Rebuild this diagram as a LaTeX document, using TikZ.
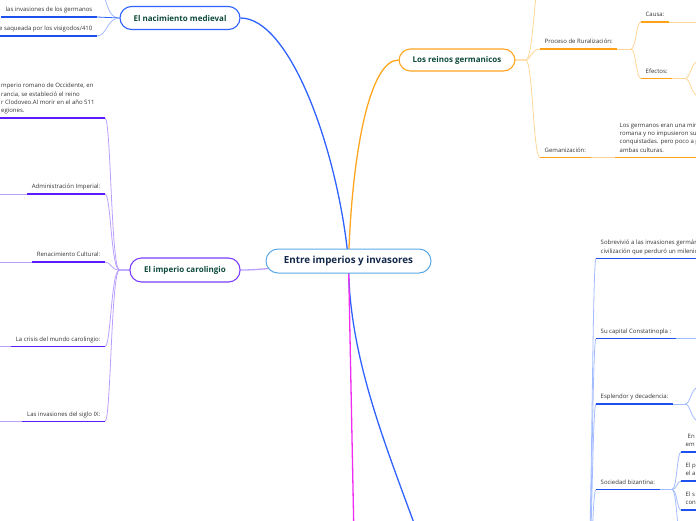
\documentclass[tikz,border=0pt]{standalone}
\usepackage{fontspec}
\setmainfont{Open Sans}
\usepackage{tikz}
\usetikzlibrary{backgrounds}
\definecolor{rootline}{HTML}{5AA9E6}
\definecolor{rootink}{HTML}{13294B}
\definecolor{topicink}{HTML}{0E4A3B}
\definecolor{leafink}{HTML}{333333}
\definecolor{bluemain}{HTML}{2F62FF}
\definecolor{bluelight}{HTML}{A3BBFF}
\definecolor{bluedark}{HTML}{1F50F0}
\definecolor{orangemain}{HTML}{FFA51F}
\definecolor{orangelight}{HTML}{FFD696}
\definecolor{orangedark}{HTML}{FFA21A}
\definecolor{purplemain}{HTML}{7B3DFF}
\definecolor{purplelight}{HTML}{B9A0FF}
\definecolor{purpledark}{HTML}{5A1CFF}
\definecolor{magentamain}{HTML}{F02CF0}
\tikzset{
  rootbox/.style={draw=rootline,fill=white,line width=1pt,rounded corners=12pt,
    minimum width=165pt,minimum height=24pt,font=\fontsize{9.8}{12}\selectfont\bfseries,text=rootink},
  topicbox/.style={draw=#1,fill=white,line width=1.1pt,rounded corners=11.5pt,
    minimum height=23pt,font=\fontsize{8}{10}\selectfont\bfseries,text=topicink},
  leaftext/.style={font=\fontsize{6}{8.4}\selectfont,text=leafink,align=left,
    inner xsep=4.5pt,inner ysep=3.4pt,text depth=1.6pt},
  mainlink/.style={draw=#1,line width=1.3pt},
  sublink/.style={draw=#1,line width=0.8pt},
  topicline/.style={draw=#1,line width=1.6pt}
}
\begin{document}
\begin{tikzpicture}[x=1pt,y=-1pt]
  \useasboundingbox (0,0) rectangle (696,520);
  \clip (0,0) rectangle (696,520);
  \node[rootbox] (root) at (348.5,261) {Entre imperios y invasores};
  \node[topicbox=bluemain,minimum width=120pt] (birth) at (180,18) {El nacimiento medieval};
  \node[topicbox=orangemain,minimum width=116pt,minimum height=22pt] (reinos) at (457,60) {Los reinos germanicos};
  \node[topicbox=purplemain,minimum width=110pt,minimum height=24pt] (caro) at (185,270) {El imperio carolingio};
  \coordinate (byz) at (442,605);
  \coordinate (byzfork) at (586,600);
  \coordinate (magenta) at (356,640);
  % el nacimiento medieval
  \node[leaftext,anchor=south east] (germ) at (97,17) {las invasiones de los germanos};
  \node[leaftext,anchor=south east] (saq) at (97,36) {e saqueada por los visigodos/410};
  % el imperio carolingio
  \coordinate (paraend) at (105,118);
  \node[leaftext,anchor=south west] (para) at (-3.5,118) {mperio romano de Occidente, en\\rancia, se estableció el reino\\r Clodoveo.Al morir en el año 511\\egiones.};
  \node[leaftext,anchor=south east] (admin) at (105,194) {Administración Imperial:};
  \node[leaftext,anchor=south east] (renac) at (105,262) {Renacimiento Cultural:};
  \node[leaftext,anchor=south east] (crisis) at (105,346.5) {La crisis del mundo carolingio:};
  \node[leaftext,anchor=south east] (invas) at (105,421.5) {Las invasiones del siglo IX:};
  % los reinos germanicos
  \node[leaftext,anchor=south west] (proc) at (540,49) {Proceso de Ruralización:};
  \coordinate (pfork) at (631,49);
  \node[leaftext,anchor=south west] (causa) at (641,22) {Causa:};
  \node[leaftext,anchor=south west] (efect) at (641,78.5) {Efectos:};
  \coordinate (efork) at (685,78.5);
  \node[leaftext,anchor=south west] (gem) at (540,157.5) {Gemanización:};
  \node[leaftext,anchor=south west] (losg) at (615,157.5) {Los germanos eran una min\\romana y no impusieron su\\conquistadas. pero poco a p\\ambas culturas.};
  % rama bizantina
  \node[leaftext,anchor=south west] (sobre) at (596,258.5) {Sobrevivió a las invasiones germán\\civilización que perduró un milenio};
  \node[leaftext,anchor=south west] (capital) at (596,338.5) {Su capital Constatinopla :};
  \node[leaftext,anchor=south west] (espl) at (596,404) {Esplendor y decadencia:};
  \coordinate (esfork) at (685,404);
  \node[leaftext,anchor=south west] (soc) at (596,489.5) {Sociedad bizantina:};
  \coordinate (sfork) at (672,489.5);
  \node[leaftext,anchor=south west] (soca) at (681,452) {\hspace*{2pt}En\\em};
  \node[leaftext,anchor=south west] (socb) at (681,481) {El p\\el a};
  \node[leaftext,anchor=south west] (socc) at (681,510) {El s\\con};
  \node[leaftext,anchor=south west] (socd) at (681,539) {-\\\mbox{}};

  \begin{scope}[on background layer]
    \clip (0,0) rectangle (696,520);
    \draw[mainlink=bluemain] (root.center) .. controls (338,150) and (290,18) .. (birth.east);
    \draw[mainlink=bluemain] (root.center) .. controls (348,380) and (408,492) .. (byz);
    \draw[mainlink=orangemain] (root.center) .. controls (352,150) and (370,60) .. (reinos.west);
    \draw[mainlink=purplelight] (root.center) .. controls (300,261) and (280,270) .. (caro.east);
    \draw[mainlink=magentamain] (root.center) -- (magenta);

    \draw[sublink=bluelight] (birth.west) .. controls (108,18) and (108,4) .. (101,-12);
    \draw[sublink=bluemain] (birth.west) -- (germ.south east);
    \draw[sublink=bluelight] (birth.west) .. controls (107,18) and (107,36) .. (saq.south east);
    \draw[topicline=bluedark] (germ.south west) -- (germ.south east);
    \draw[topicline=bluedark] (saq.south west) -- (saq.south east);

    \coordinate (ptrunk) at (111,0);
    \draw[sublink=purplelight] (caro.west) -- ++(-10,0) .. controls (ptrunk |- caro.west) and (ptrunk |- paraend) .. (paraend);
    \draw[topicline=purpledark] (paraend) -- (para.south west);
    \foreach \leaf in {admin,renac,crisis,invas}{
      \draw[sublink=purplelight] (caro.west) -- ++(-10,0) .. controls (ptrunk |- caro.west) and (ptrunk |- \leaf.south east) .. (\leaf.south east);
      \draw[topicline=purpledark] (\leaf.south west) -- (\leaf.south east);
      \draw[sublink=purplelight] (\leaf.south west) -- ++(-40,0);
    }

    \draw[sublink=orangelight] (reinos.east) -- ++(10,0) .. controls (532,60) and (533,15) .. (538,-20);
    \draw[sublink=orangelight] (reinos.east) -- ++(10,0) .. controls (531,60) and (531,49) .. (proc.south west);
    \draw[sublink=orangelight] (reinos.east) -- ++(10,0) .. controls (533,60) and (533,157.5) .. (gem.south west);
    \draw[topicline=orangedark] (proc.south west) -- (proc.south east);
    \draw[sublink=orangelight] (proc.south east) -- (pfork);
    \draw[sublink=orangelight] (pfork) .. controls (636,49) and (636,22) .. (causa.south west);
    \draw[sublink=orangelight] (pfork) .. controls (636,49) and (636,78.5) .. (efect.south west);
    \draw[topicline=orangedark] (causa.south west) -- (causa.south east);
    \draw[sublink=orangelight] (causa.south east) -- ++(60,0);
    \draw[topicline=orangedark] (efect.south west) -- (efect.south east);
    \draw[sublink=orangelight] (efect.south east) -- (efork);
    \draw[sublink=orangelight] (efork) .. controls (691,78.5) and (690,62) .. (700,60);
    \draw[sublink=orangelight] (efork) .. controls (691,78.5) and (690,95) .. (700,97);
    \draw[topicline=orangedark] (gem.south west) -- (gem.south east);
    \draw[sublink=orangelight] (gem.south east) -- (losg.south west);
    \draw[topicline=orangedark] (losg.south west) -- ++(100,0);

    \coordinate (btrunk) at (592,0);
    \foreach \leaf in {sobre,capital,espl,soc}{
      \draw[sublink=bluelight] (byzfork) .. controls (btrunk |- byzfork) and (btrunk |- \leaf.south west) .. (\leaf.south west);
    }
    \draw[topicline=bluedark] (sobre.south west) -- ++(120,0);
    \draw[topicline=bluedark] (capital.south west) -- (capital.south east);
    \draw[sublink=bluelight] (capital.south east) -- ++(60,0);
    \draw[topicline=bluedark] (espl.south west) -- (espl.south east);
    \draw[sublink=bluelight] (espl.south east) -- (esfork);
    \draw[sublink=bluelight] (esfork) .. controls (691,404) and (690,388) .. (700,386);
    \draw[sublink=bluelight] (esfork) .. controls (691,404) and (690,420) .. (700,422);
    \draw[topicline=bluedark] (soc.south west) -- (soc.south east);
    \draw[sublink=bluelight] (soc.south east) -- (sfork);
    \coordinate (strunk) at (677,0);
    \foreach \leaf in {soca,socb,socc,socd}{
      \draw[sublink=bluelight] (sfork) .. controls (strunk |- sfork) and (strunk |- \leaf.south west) .. (\leaf.south west);
      \draw[topicline=bluedark] (\leaf.south west) -- ++(30,0);
    }
  \end{scope}
\end{tikzpicture}
\end{document}
